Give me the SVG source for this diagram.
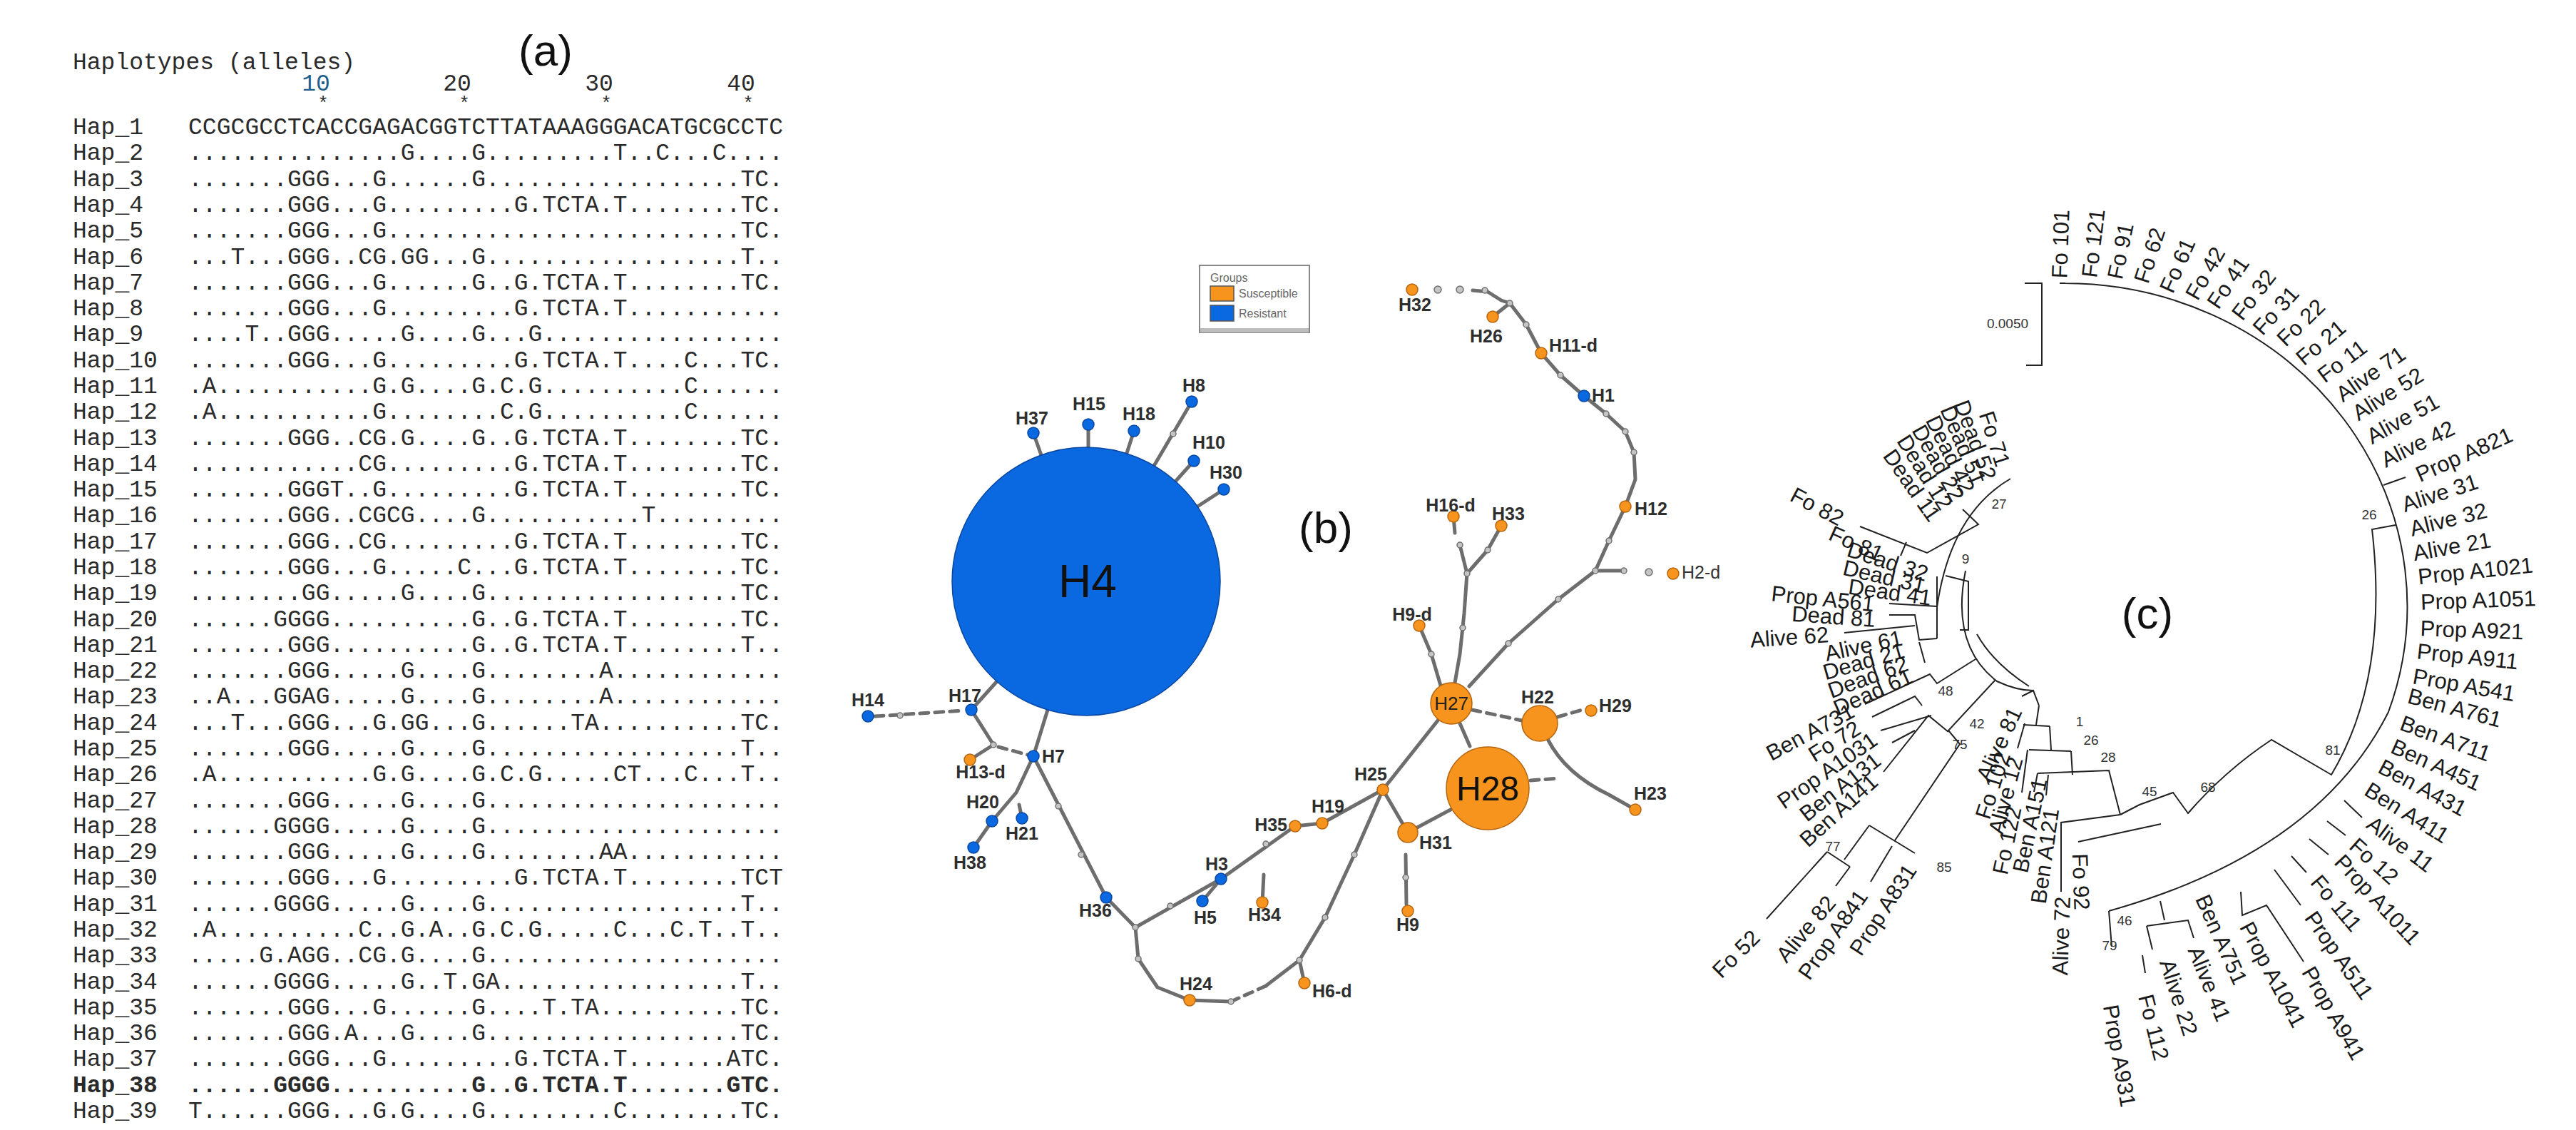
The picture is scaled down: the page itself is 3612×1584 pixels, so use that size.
<svg xmlns="http://www.w3.org/2000/svg" width="3612" height="1584" viewBox="0 0 3612 1584">
<style>
.mono{font-family:"Liberation Mono","Courier New",monospace;font-size:33px;fill:#2a2a2a}
.seq{font-family:"Liberation Mono","Courier New",monospace;font-size:33px;fill:#2a2a2a}
.star{font-family:"Liberation Mono","Courier New",monospace;font-size:26px;fill:#2a2a2a}
.pl{font-family:"Liberation Sans",Arial,sans-serif;font-size:62px;fill:#111}
.edge{stroke:#6d6d6d;stroke-width:5;fill:none;stroke-linecap:round;stroke-linejoin:round}
.dash{stroke-dasharray:12 9}
.or{fill:#f7941d;stroke:#b5650f;stroke-width:1.5}
.bl{fill:#0a68e0;stroke:#0a47a0;stroke-width:1.5}
.mv{fill:#c4c4c4;stroke:#707070;stroke-width:1.5}
.nl{font-family:"Liberation Sans",Arial,sans-serif;font-weight:bold;font-size:25px;fill:#2e2e2e}
.nn{font-family:"Liberation Sans",Arial,sans-serif;font-size:25px;fill:#333}
.lg{font-family:"Liberation Sans",Arial,sans-serif;font-size:16px;fill:#666}
.br{stroke:#222;stroke-width:2;fill:none}
.lf{font-family:"Liberation Sans",Arial,sans-serif;font-size:31px;fill:#1a1a1a}
.bs{font-family:"Liberation Sans",Arial,sans-serif;font-size:19px;fill:#333}
</style>
<rect width="3612" height="1584" fill="#fff"/>

<!-- Panel (a) -->
<g id="panel-a">
<text class="mono" x="102" y="97">Haplotypes (alleles)</text>
<text class="pl" x="765" y="92" text-anchor="middle">(a)</text>
<text class="mono" x="443" y="127" text-anchor="middle" style="fill:#1f5d8a">10</text>
<text class="mono" x="641" y="127" text-anchor="middle">20</text>
<text class="mono" x="840" y="127" text-anchor="middle">30</text>
<text class="mono" x="1039" y="127" text-anchor="middle">40</text>
<text class="star" x="453" y="153" text-anchor="middle">*</text>
<text class="star" x="651" y="153" text-anchor="middle">*</text>
<text class="star" x="850" y="153" text-anchor="middle">*</text>
<text class="star" x="1049" y="153" text-anchor="middle">*</text>
<g id="hap-labels" class="mono">
<text x="102" y="188">Hap_1</text><text x="102" y="224.3">Hap_2</text><text x="102" y="260.6">Hap_3</text><text x="102" y="296.9">Hap_4</text><text x="102" y="333.2">Hap_5</text><text x="102" y="369.5">Hap_6</text><text x="102" y="405.7">Hap_7</text><text x="102" y="442">Hap_8</text><text x="102" y="478.3">Hap_9</text><text x="102" y="514.6">Hap_10</text><text x="102" y="550.9">Hap_11</text><text x="102" y="587.2">Hap_12</text><text x="102" y="623.5">Hap_13</text><text x="102" y="659.8">Hap_14</text><text x="102" y="696.1">Hap_15</text><text x="102" y="732.4">Hap_16</text><text x="102" y="768.6">Hap_17</text><text x="102" y="804.9">Hap_18</text><text x="102" y="841.2">Hap_19</text><text x="102" y="877.5">Hap_20</text><text x="102" y="913.8">Hap_21</text><text x="102" y="950.1">Hap_22</text><text x="102" y="986.4">Hap_23</text><text x="102" y="1022.7">Hap_24</text><text x="102" y="1059">Hap_25</text><text x="102" y="1095.3">Hap_26</text><text x="102" y="1131.5">Hap_27</text><text x="102" y="1167.8">Hap_28</text><text x="102" y="1204.1">Hap_29</text><text x="102" y="1240.4">Hap_30</text><text x="102" y="1276.7">Hap_31</text><text x="102" y="1313">Hap_32</text><text x="102" y="1349.3">Hap_33</text><text x="102" y="1385.6">Hap_34</text><text x="102" y="1421.9">Hap_35</text><text x="102" y="1458.2">Hap_36</text><text x="102" y="1494.4">Hap_37</text><text x="102" y="1530.7" font-weight="bold">Hap_38</text><text x="102" y="1567">Hap_39</text>
</g>
<g id="sequences" class="seq">
<text x="264" y="188" textLength="834" lengthAdjust="spacing">CCGCGCCTCACCGAGACGGTCTTATAAAGGGACATGCGCCTC</text>
<text x="264" y="224.3" textLength="834" lengthAdjust="spacing">...............G....G.........T..C...C....</text>
<text x="264" y="260.6" textLength="834" lengthAdjust="spacing">.......GGG...G......G..................TC.</text>
<text x="264" y="296.9" textLength="834" lengthAdjust="spacing">.......GGG...G.........G.TCTA.T........TC.</text>
<text x="264" y="333.2" textLength="834" lengthAdjust="spacing">.......GGG...G.........................TC.</text>
<text x="264" y="369.5" textLength="834" lengthAdjust="spacing">...T...GGG..CG.GG...G..................T..</text>
<text x="264" y="405.7" textLength="834" lengthAdjust="spacing">.......GGG...G......G..G.TCTA.T........TC.</text>
<text x="264" y="442" textLength="834" lengthAdjust="spacing">.......GGG...G.........G.TCTA.T...........</text>
<text x="264" y="478.3" textLength="834" lengthAdjust="spacing">....T..GGG.....G....G...G.................</text>
<text x="264" y="514.6" textLength="834" lengthAdjust="spacing">.......GGG...G.........G.TCTA.T....C...TC.</text>
<text x="264" y="550.9" textLength="834" lengthAdjust="spacing">.A...........G.G....G.C.G..........C......</text>
<text x="264" y="587.2" textLength="834" lengthAdjust="spacing">.A...........G........C.G..........C......</text>
<text x="264" y="623.5" textLength="834" lengthAdjust="spacing">.......GGG..CG.G....G..G.TCTA.T........TC.</text>
<text x="264" y="659.8" textLength="834" lengthAdjust="spacing">............CG.........G.TCTA.T........TC.</text>
<text x="264" y="696.1" textLength="834" lengthAdjust="spacing">.......GGGT..G.........G.TCTA.T........TC.</text>
<text x="264" y="732.4" textLength="834" lengthAdjust="spacing">.......GGG..CGCG....G...........T.........</text>
<text x="264" y="768.6" textLength="834" lengthAdjust="spacing">.......GGG..CG.........G.TCTA.T........TC.</text>
<text x="264" y="804.9" textLength="834" lengthAdjust="spacing">.......GGG...G.....C...G.TCTA.T........TC.</text>
<text x="264" y="841.2" textLength="834" lengthAdjust="spacing">........GG.....G....G..................TC.</text>
<text x="264" y="877.5" textLength="834" lengthAdjust="spacing">......GGGG..........G..G.TCTA.T........TC.</text>
<text x="264" y="913.8" textLength="834" lengthAdjust="spacing">.......GGG..........G..G.TCTA.T........T..</text>
<text x="264" y="950.1" textLength="834" lengthAdjust="spacing">.......GGG.....G....G........A............</text>
<text x="264" y="986.4" textLength="834" lengthAdjust="spacing">..A...GGAG.....G....G........A............</text>
<text x="264" y="1022.7" textLength="834" lengthAdjust="spacing">...T...GGG...G.GG...G......TA..........TC.</text>
<text x="264" y="1059" textLength="834" lengthAdjust="spacing">.......GGG.....G....G..................T..</text>
<text x="264" y="1095.3" textLength="834" lengthAdjust="spacing">.A...........G.G....G.C.G.....CT...C...T..</text>
<text x="264" y="1131.5" textLength="834" lengthAdjust="spacing">.......GGG.....G....G.....................</text>
<text x="264" y="1167.8" textLength="834" lengthAdjust="spacing">......GGGG.....G....G.....................</text>
<text x="264" y="1204.1" textLength="834" lengthAdjust="spacing">.......GGG.....G....G........AA...........</text>
<text x="264" y="1240.4" textLength="834" lengthAdjust="spacing">.......GGG...G.........G.TCTA.T........TCT</text>
<text x="264" y="1276.7" textLength="834" lengthAdjust="spacing">......GGGG.....G....G..................T..</text>
<text x="264" y="1313" textLength="834" lengthAdjust="spacing">.A..........C..G.A..G.C.G.....C...C.T..T..</text>
<text x="264" y="1349.3" textLength="834" lengthAdjust="spacing">.....G.AGG..CG.G....G.....................</text>
<text x="264" y="1385.6" textLength="834" lengthAdjust="spacing">......GGGG.....G..T.GA.................T..</text>
<text x="264" y="1421.9" textLength="834" lengthAdjust="spacing">.......GGG...G......G....T.TA..........TC.</text>
<text x="264" y="1458.2" textLength="834" lengthAdjust="spacing">.......GGG.A...G....G..................TC.</text>
<text x="264" y="1494.4" textLength="834" lengthAdjust="spacing">.......GGG...G.........G.TCTA.T.......ATC.</text>
<text x="264" y="1530.7" textLength="834" lengthAdjust="spacing" font-weight="bold">......GGGG..........G..G.TCTA.T.......GTC.</text>
<text x="264" y="1567" textLength="834" lengthAdjust="spacing">T......GGG...G.G....G.........C........TC.</text>
</g>
</g>

<!-- Panel (b) -->
<g id="panel-b">
<text class="pl" x="1859" y="761" text-anchor="middle">(b)</text>
<g id="legend">
<rect x="1682" y="372" width="154" height="94" fill="#fff" stroke="#888" stroke-width="2"/>
<rect x="1683" y="460" width="152" height="6" fill="#bdbdbd"/>
<text class="lg" x="1697" y="395">Groups</text>
<rect x="1697" y="401" width="33" height="21" fill="#f7941d" stroke="#555" stroke-width="1.5"/>
<text class="lg" x="1737" y="417">Susceptible</text>
<rect x="1697" y="428" width="33" height="22" fill="#0a68e0" stroke="#555" stroke-width="1.5"/>
<text class="lg" x="1737" y="445">Resistant</text>
</g>
<g id="connectors">
<path class="edge" d="M1449 607L1460 638M1526 595L1526 627M1590 604L1580 635M1671 563L1618 653M1674 646L1648 675M1716 686L1679 710"/>
<path class="edge dash" d="M1227 1004L1352 996"/>
<path class="edge" d="M1362 995L1398 955M1362 995L1393 1044L1360 1065"/>
<path class="edge dash" d="M1400 1047L1441 1058"/>
<path class="edge" d="M1449 1060L1469 995M1449 1060L1425 1111L1391 1151L1365 1188M1429 1128L1433 1147M1449 1060L1551 1258L1592 1300L1712 1232L1816 1158M1712 1232L1686 1263M1772 1226L1770 1265"/>
<path class="edge" d="M1592 1300L1596 1344L1623 1384L1668 1402L1726 1404"/>
<path class="edge dash" d="M1726 1404L1775 1382"/>
<path class="edge" d="M1775 1382L1822 1346L1829 1378M1822 1346L1858 1286L1899 1198L1939 1107L1854 1154L1816 1158M1939 1107L2016 1010M1939 1107L1974 1167L2034 1135M2047 1014L2061 1046"/>
<path class="edge dash" d="M2064 995L2134 1010M2184 1005L2222 994M2146 1094L2185 1091"/>
<path class="edge" d="M2170 1036Q2195 1085 2256 1114L2293 1135M1971 1198L1972 1268"/>
<path class="edge" d="M2020 961L2007 917L1990 877M2040 957L2047 917L2053 860L2057 804L2047 764M2040 747L2038 724M2057 804L2086 771L2105 737M2060 962L2115 902L2185 840L2237 800L2277 800M2237 800L2256 758L2279 710L2293 672L2291 634L2279 605L2252 580L2221 555L2188 526L2161 495L2140 455L2117 425L2093 444M2117 425L2105 421L2086 409L2065 407"/>
</g>
<g id="median-vectors">
<circle class="mv" cx="1645" cy="608" r="4"/><circle class="mv" cx="1484" cy="1130" r="4"/><circle class="mv" cx="1516" cy="1198" r="4"/><circle class="mv" cx="1641" cy="1270" r="4"/><circle class="mv" cx="1775" cy="1183" r="4"/><circle class="mv" cx="1596" cy="1344" r="4"/><circle class="mv" cx="1726" cy="1404" r="4"/><circle class="mv" cx="1858" cy="1286" r="4"/><circle class="mv" cx="1899" cy="1198" r="4"/><circle class="mv" cx="2256" cy="758" r="4"/><circle class="mv" cx="2291" cy="634" r="4"/><circle class="mv" cx="2279" cy="605" r="4"/><circle class="mv" cx="2252" cy="580" r="4"/><circle class="mv" cx="2188" cy="526" r="4"/><circle class="mv" cx="2140" cy="455" r="4"/><circle class="mv" cx="2117" cy="425" r="4"/><circle class="mv" cx="2016" cy="406" r="5"/><circle class="mv" cx="2047" cy="406" r="5"/><circle class="mv" cx="2082" cy="407" r="4"/><circle class="mv" cx="2312" cy="802" r="5"/><circle class="mv" cx="2277" cy="800" r="4"/><circle class="mv" cx="2237" cy="800" r="4"/><circle class="mv" cx="2057" cy="804" r="4"/><circle class="mv" cx="2047" cy="764" r="4"/><circle class="mv" cx="2086" cy="771" r="4"/><circle class="mv" cx="2051" cy="880" r="4"/><circle class="mv" cx="2007" cy="917" r="4"/><circle class="mv" cx="2115" cy="902" r="4"/><circle class="mv" cx="2185" cy="840" r="4"/><circle class="mv" cx="1393" cy="1044" r="4"/><circle class="mv" cx="1592" cy="1300" r="4"/><circle class="mv" cx="1822" cy="1346" r="4"/><circle class="mv" cx="1971" cy="1230" r="4"/><circle class="mv" cx="1262" cy="1003" r="4"/>
</g>
<g id="node-H4"><circle class="bl" cx="1523" cy="815" r="188"/><text x="1525" y="837" text-anchor="middle" font-family="Liberation Sans, Arial, sans-serif" font-size="64" fill="#111">H4</text></g>
<g id="node-H37"><circle class="bl" cx="1449" cy="607" r="8"/><text class="nl" x="1447" y="595" text-anchor="middle">H37</text></g>
<g id="node-H15"><circle class="bl" cx="1526" cy="595" r="8"/><text class="nl" x="1527" y="575" text-anchor="middle">H15</text></g>
<g id="node-H18"><circle class="bl" cx="1590" cy="604" r="8"/><text class="nl" x="1597" y="589" text-anchor="middle">H18</text></g>
<g id="node-H8"><circle class="bl" cx="1671" cy="563" r="8"/><text class="nl" x="1674" y="549" text-anchor="middle">H8</text></g>
<g id="node-H10"><circle class="bl" cx="1674" cy="646" r="8"/><text class="nl" x="1695" y="629" text-anchor="middle">H10</text></g>
<g id="node-H30"><circle class="bl" cx="1716" cy="686" r="8"/><text class="nl" x="1719" y="671" text-anchor="middle">H30</text></g>
<g id="node-H14"><circle class="bl" cx="1217" cy="1004" r="8"/><text class="nl" x="1217" y="990" text-anchor="middle">H14</text></g>
<g id="node-H17"><circle class="bl" cx="1362" cy="995" r="8"/><text class="nl" x="1353" y="984" text-anchor="middle">H17</text></g>
<g id="node-H13-d"><circle class="or" cx="1360" cy="1065" r="8"/><text class="nl" x="1375" y="1091" text-anchor="middle">H13-d</text></g>
<g id="node-H7"><circle class="bl" cx="1449" cy="1060" r="8"/><text class="nl" x="1461" y="1069">H7</text></g>
<g id="node-H20"><circle class="bl" cx="1391" cy="1151" r="8"/><text class="nl" x="1378" y="1133" text-anchor="middle">H20</text></g>
<g id="node-H38"><circle class="bl" cx="1365" cy="1188" r="8"/><text class="nl" x="1360" y="1218" text-anchor="middle">H38</text></g>
<g id="node-H21"><circle class="bl" cx="1433" cy="1147" r="8"/><text class="nl" x="1433" y="1177" text-anchor="middle">H21</text></g>
<g id="node-H36"><circle class="bl" cx="1551" cy="1258" r="8"/><text class="nl" x="1536" y="1285" text-anchor="middle">H36</text></g>
<g id="node-H3"><circle class="bl" cx="1712" cy="1232" r="8"/><text class="nl" x="1706" y="1220" text-anchor="middle">H3</text></g>
<g id="node-H5"><circle class="bl" cx="1686" cy="1263" r="8"/><text class="nl" x="1690" y="1295" text-anchor="middle">H5</text></g>
<g id="node-H34"><circle class="or" cx="1770" cy="1265" r="8"/><text class="nl" x="1773" y="1291" text-anchor="middle">H34</text></g>
<g id="node-H35"><circle class="or" cx="1816" cy="1158" r="8"/><text class="nl" x="1805" y="1165" text-anchor="end">H35</text></g>
<g id="node-H24"><circle class="or" cx="1668" cy="1402" r="8"/><text class="nl" x="1677" y="1388" text-anchor="middle">H24</text></g>
<g id="node-H6-d"><circle class="or" cx="1829" cy="1378" r="8"/><text class="nl" x="1840" y="1398">H6-d</text></g>
<g id="node-H25"><circle class="or" cx="1939" cy="1107" r="8"/><text class="nl" x="1922" y="1094" text-anchor="middle">H25</text></g>
<g id="node-H19"><circle class="or" cx="1854" cy="1154" r="8"/><text class="nl" x="1862" y="1139" text-anchor="middle">H19</text></g>
<g id="node-H27"><circle class="or" cx="2035" cy="986" r="29"/><text x="2035" y="995" text-anchor="middle" font-family="Liberation Sans, Arial, sans-serif" font-size="26" fill="#222">H27</text></g>
<g id="node-H31"><circle class="or" cx="1974" cy="1167" r="14"/><text class="nl" x="2013" y="1190" text-anchor="middle">H31</text></g>
<g id="node-H28"><circle class="or" cx="2086" cy="1105" r="58"/><text x="2086" y="1122" text-anchor="middle" font-family="Liberation Sans, Arial, sans-serif" font-size="48" fill="#111">H28</text></g>
<g id="node-H22"><circle class="or" cx="2159" cy="1014" r="25"/><text class="nl" x="2156" y="986" text-anchor="middle">H22</text></g>
<g id="node-H29"><circle class="or" cx="2231" cy="996" r="8"/><text class="nl" x="2242" y="998">H29</text></g>
<g id="node-H23"><circle class="or" cx="2293" cy="1135" r="8"/><text class="nl" x="2314" y="1121" text-anchor="middle">H23</text></g>
<g id="node-H9"><circle class="or" cx="1974" cy="1277" r="8"/><text class="nl" x="1974" y="1305" text-anchor="middle">H9</text></g>
<g id="node-H9-d"><circle class="or" cx="1990" cy="877" r="8"/><text class="nl" x="1980" y="870" text-anchor="middle">H9-d</text></g>
<g id="node-H16-d"><circle class="or" cx="2038" cy="724" r="8"/><text class="nl" x="2034" y="717" text-anchor="middle">H16-d</text></g>
<g id="node-H33"><circle class="or" cx="2105" cy="737" r="8"/><text class="nl" x="2115" y="729" text-anchor="middle">H33</text></g>
<g id="node-H2-d"><circle class="or" cx="2346" cy="804" r="8"/><text class="nn" x="2358" y="811">H2-d</text></g>
<g id="node-H12"><circle class="or" cx="2279" cy="710" r="8"/><text class="nl" x="2292" y="722">H12</text></g>
<g id="node-H1"><circle class="bl" cx="2221" cy="555" r="8"/><text class="nl" x="2232" y="563">H1</text></g>
<g id="node-H11-d"><circle class="or" cx="2161" cy="495" r="8"/><text class="nl" x="2172" y="493">H11-d</text></g>
<g id="node-H26"><circle class="or" cx="2093" cy="444" r="8"/><text class="nl" x="2084" y="480" text-anchor="middle">H26</text></g>
<g id="node-H32"><circle class="or" cx="1980" cy="406" r="8"/><text class="nl" x="1984" y="436" text-anchor="middle">H32</text></g>
</g>

<!-- Panel (c) -->
<g id="panel-c">
<text class="pl" x="3011" y="881" text-anchor="middle">(c)</text>
<g id="scale-bar">
<path class="br" d="M2839 397L2863 397L2863 512L2841 512"/>
<text class="bs" x="2815" y="460" text-anchor="middle">0.0050</text>
</g>
<g id="branches" class="br">
<path d="M2888 397L2896 397M2894 397A481 453 0 0 1 3349 998Q3250 1195 2957 1277"/>
<path d="M3342 680L3373 669"/>
<path d="M3359 736L3326 742Q3350 950 3269 1086L3185 1037Q3120 1080 3068 1140L3047 1111L3000 1128L2973 1142"/>
<path d="M2973 1142L2957 1080L2857 1084M2904 1053L2906 1086M2845 1051L2904 1053M2874 1018L2876 1051M2837 1016L2874 1018M2859 989L2855 1016M2835 976L2851 968L2859 989"/>
<path d="M2973 1142L2890 1153L2890 1250M2914 1180L3030 1155"/>
<path d="M2839 1014L2829 1049M2843 1051L2835 1111M2872 1086L2869 1115M2857 1084L2852 1110"/>
<path d="M2756 800Q2735 905 2800 955Q2828 968 2851 968M2772 889Q2795 930 2845 962"/>
<path d="M2819 671Q2735 720 2716 851"/>
<path d="M2752 714L2774 735L2702 775L2608 738M2673 760L2665 779"/>
<path d="M2728 807L2760 815L2760 883L2748 883"/>
<path d="M2716 808L2716 895M2649 846L2716 850M2649 862L2685 862L2691 897L2716 895M2586 887L2685 877M2691 900L2699 929"/>
<path d="M2615 987L2706 945L2716 958L2770 924M2625 1005L2685 976L2695 989M2637 1024L2708 1003M2653 1041L2685 1024M2641 1082L2704 1003L2732 1026"/>
<path d="M2797 954L2732 1024L2748 1043L2657 1178M2621 1157L2685 1196M2653 1186L2623 1236M2621 1157L2586 1205M2562 1194L2594 1215M2562 1194L2477 1288M2594 1215L2574 1242"/>
<path d="M3287 1122L3312 1146M3263 1151L3289 1171M3238 1176L3265 1198M3213 1200L3234 1223M3189 1219L3226 1269M3142 1250L3144 1283L3178 1269L3230 1348"/>
<path d="M2957 1277L2961 1327M3029 1263L3035 1290M3010 1298L3068 1290L3076 1315M3010 1298L3018 1331M3004 1339L3008 1364"/>
</g>
<g id="bootstrap" class="bs" text-anchor="middle">
<text x="2803" y="713">27</text><text x="2756" y="790">9</text><text x="2728" y="975">48</text><text x="2772" y="1021">42</text><text x="2748" y="1050">75</text><text x="2916" y="1018">1</text><text x="2932" y="1044">26</text><text x="2956" y="1068">28</text><text x="3014" y="1116">45</text><text x="3096" y="1110">68</text><text x="3271" y="1058">81</text><text x="3322" y="728">26</text><text x="2570" y="1193">77</text><text x="2726" y="1222">85</text><text x="2979" y="1297">46</text><text x="2958" y="1332">79</text>
</g>
<g id="leaf-labels" class="lf" text-anchor="middle">
<text transform="translate(2889 342) rotate(-88)" dy="0.35em">Fo 101</text>
<text transform="translate(2935 341) rotate(-83)" dy="0.35em">Fo 121</text>
<text transform="translate(2973 352) rotate(-78)" dy="0.35em">Fo 91</text>
<text transform="translate(3014 358) rotate(-72)" dy="0.35em">Fo 62</text>
<text transform="translate(3053 372) rotate(-66)" dy="0.35em">Fo 61</text>
<text transform="translate(3092 383) rotate(-60)" dy="0.35em">Fo 42</text>
<text transform="translate(3124 396) rotate(-56)" dy="0.35em">Fo 41</text>
<text transform="translate(3160 413) rotate(-52)" dy="0.35em">Fo 32</text>
<text transform="translate(3191 435) rotate(-48)" dy="0.35em">Fo 31</text>
<text transform="translate(3226 452) rotate(-44)" dy="0.35em">Fo 22</text>
<text transform="translate(3254 480) rotate(-40)" dy="0.35em">Fo 21</text>
<text transform="translate(3284 506) rotate(-37)" dy="0.35em">Fo 11</text>
<text transform="translate(3324 524) rotate(-35)" dy="0.35em">Alive 71</text>
<text transform="translate(3348 552) rotate(-32)" dy="0.35em">Alive 52</text>
<text transform="translate(3369 587) rotate(-29)" dy="0.35em">Alive 51</text>
<text transform="translate(3390 622) rotate(-26)" dy="0.35em">Alive 42</text>
<text transform="translate(3455 637) rotate(-24)" dy="0.35em">Prop A821</text>
<text transform="translate(3421 691) rotate(-18)" dy="0.35em">Alive 31</text>
<text transform="translate(3433 728) rotate(-14)" dy="0.35em">Alive 32</text>
<text transform="translate(3438 766) rotate(-10)" dy="0.35em">Alive 21</text>
<text transform="translate(3471 800) rotate(-6)" dy="0.35em">Prop A1021</text>
<text transform="translate(3475 841) rotate(-2)" dy="0.35em">Prop A1051</text>
<text transform="translate(3466 883) rotate(2)" dy="0.35em">Prop A921</text>
<text transform="translate(3460 920) rotate(6)" dy="0.35em">Prop A911</text>
<text transform="translate(3455 960) rotate(10)" dy="0.35em">Prop A541</text>
<text transform="translate(3442 992) rotate(15)" dy="0.35em">Ben A761</text>
<text transform="translate(3429 1035) rotate(20)" dy="0.35em">Ben A711</text>
<text transform="translate(3416 1072) rotate(24)" dy="0.35em">Ben A451</text>
<text transform="translate(3397 1104) rotate(28)" dy="0.35em">Ben A431</text>
<text transform="translate(3375 1139) rotate(32)" dy="0.35em">Ben A411</text>
<text transform="translate(3366 1183) rotate(37)" dy="0.35em">Alive 11</text>
<text transform="translate(3329 1207) rotate(42)" dy="0.35em">Fo 12</text>
<text transform="translate(3334 1261) rotate(47)" dy="0.35em">Prop A1011</text>
<text transform="translate(3276 1266) rotate(50)" dy="0.35em">Fo 111</text>
<text transform="translate(3280 1339) rotate(55)" dy="0.35em">Prop A511</text>
<text transform="translate(3272 1420) rotate(60)" dy="0.35em">Prop A941</text>
<text transform="translate(3187 1366) rotate(62)" dy="0.35em">Prop A1041</text>
<text transform="translate(3115 1317) rotate(66)" dy="0.35em">Ben A751</text>
<text transform="translate(3098 1379) rotate(68)" dy="0.35em">Alive 41</text>
<text transform="translate(3055 1398) rotate(72)" dy="0.35em">Alive 22</text>
<text transform="translate(3020 1440) rotate(76)" dy="0.35em">Fo 112</text>
<text transform="translate(2972 1480) rotate(80)" dy="0.35em">Prop A931</text>
<text transform="translate(2890 1312) rotate(-88)" dy="0.35em">Alive 72</text>
<text transform="translate(2918 1236) rotate(88)" dy="0.35em">Fo 92</text>
<text transform="translate(2803 1043) rotate(-65)" dy="0.35em">Alive 81</text>
<text transform="translate(2794 1101) rotate(-72)" dy="0.35em">Fo 102</text>
<text transform="translate(2812 1115) rotate(-75)" dy="0.35em">Alive 12</text>
<text transform="translate(2814 1178) rotate(-78)" dy="0.35em">Fo 122</text>
<text transform="translate(2846 1157) rotate(-78)" dy="0.35em">Ben A151</text>
<text transform="translate(2867 1200) rotate(-82)" dy="0.35em">Ben A121</text>
<text transform="translate(2681 680) rotate(55)" dy="0.35em">Dead 11</text>
<text transform="translate(2699 662) rotate(58)" dy="0.35em">Dead 12</text>
<text transform="translate(2718 649) rotate(61)" dy="0.35em">Dead 22</text>
<text transform="translate(2735 637) rotate(64)" dy="0.35em">Dead 42</text>
<text transform="translate(2753 624) rotate(67)" dy="0.35em">Dead 51</text>
<text transform="translate(2770 617) rotate(70)" dy="0.35em">Dead 52</text>
<text transform="translate(2797 615) rotate(72)" dy="0.35em">Fo 71</text>
<text transform="translate(2548 710) rotate(28)" dy="0.35em">Fo 82</text>
<text transform="translate(2603 762) rotate(24)" dy="0.35em">Fo 81</text>
<text transform="translate(2647 787) rotate(18)" dy="0.35em">Dead 32</text>
<text transform="translate(2642 808) rotate(13)" dy="0.35em">Dead 31</text>
<text transform="translate(2650 830) rotate(8)" dy="0.35em">Dead 41</text>
<text transform="translate(2556 839) rotate(6)" dy="0.35em">Prop A561</text>
<text transform="translate(2571 864) rotate(4)" dy="0.35em">Dead 81</text>
<text transform="translate(2509 893) rotate(-4)" dy="0.35em">Alive 62</text>
<text transform="translate(2613 905) rotate(-12)" dy="0.35em">Alive 61</text>
<text transform="translate(2613 927) rotate(-16)" dy="0.35em">Dead 21</text>
<text transform="translate(2619 949) rotate(-20)" dy="0.35em">Dead 62</text>
<text transform="translate(2626 970) rotate(-24)" dy="0.35em">Dead 61</text>
<text transform="translate(2538 1026) rotate(-28)" dy="0.35em">Ben A731</text>
<text transform="translate(2572 1039) rotate(-32)" dy="0.35em">Fo 72</text>
<text transform="translate(2562 1080) rotate(-35)" dy="0.35em">Prop A1031</text>
<text transform="translate(2580 1103) rotate(-38)" dy="0.35em">Ben A131</text>
<text transform="translate(2578 1136) rotate(-42)" dy="0.35em">Ben A141</text>
<text transform="translate(2434 1337) rotate(-45)" dy="0.35em">Fo 52</text>
<text transform="translate(2532 1302) rotate(-50)" dy="0.35em">Alive 82</text>
<text transform="translate(2570 1310) rotate(-55)" dy="0.35em">Prop A841</text>
<text transform="translate(2640 1275) rotate(-57)" dy="0.35em">Prop A831</text>
</g>
</g>
</svg>
